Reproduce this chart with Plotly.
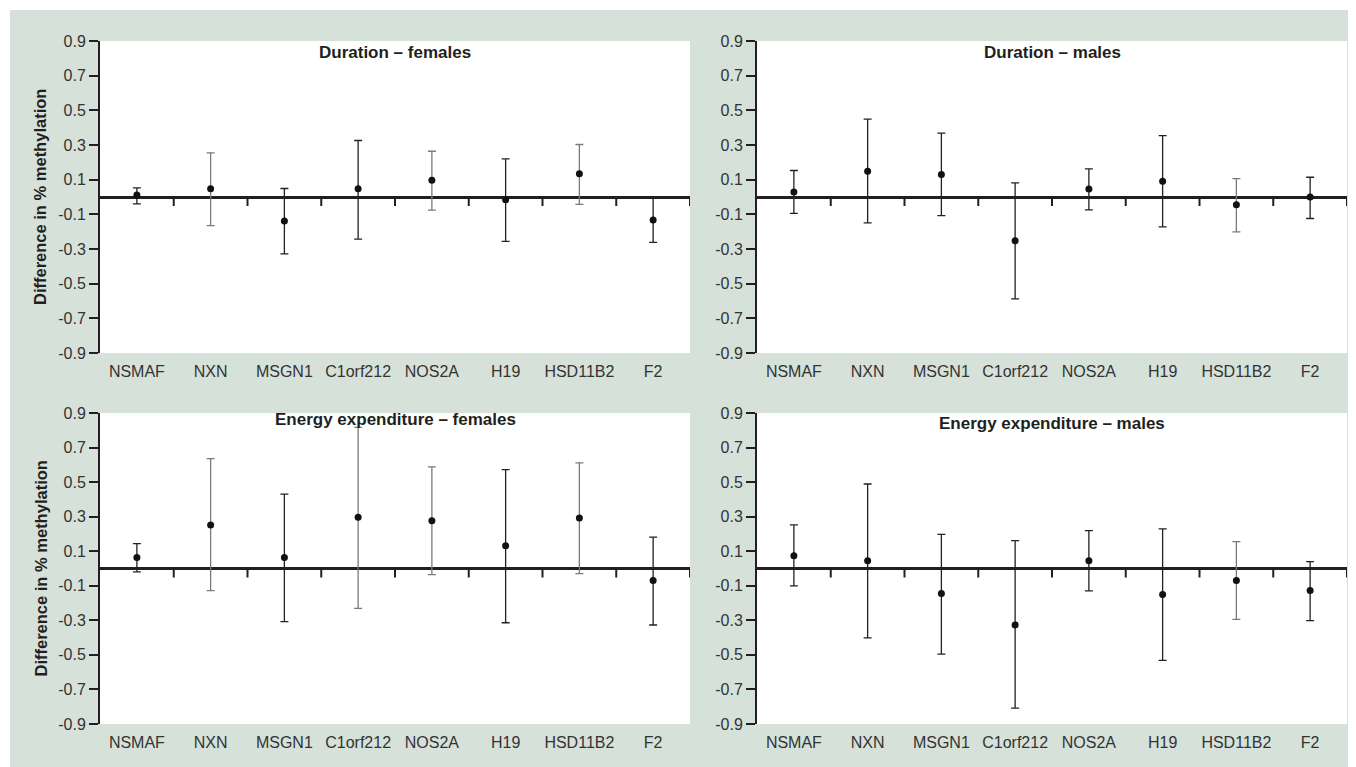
import plotly.graph_objects as go

# ---------------- data ----------------
genes = ["NSMAF", "NXN", "MSGN1", "C1orf212", "NOS2A", "H19", "HSD11B2", "F2"]

titles = ["Duration – females", "Duration – males",
          "Energy expenditure – females", "Energy expenditure – males"]

dur_f_mean  = [0.011, 0.047, -0.138, 0.047, 0.096, -0.016, 0.134, -0.132]
dur_f_upper = [0.053, 0.254, 0.049, 0.326, 0.264, 0.220, 0.303, 0.000]
dur_f_lower = [-0.040, -0.165, -0.328, -0.243, -0.076, -0.256, -0.042, -0.262]

dur_m_mean  = [0.029, 0.149, 0.130, -0.253, 0.046, 0.091, -0.044, 0.000]
dur_m_upper = [0.153, 0.449, 0.368, 0.081, 0.162, 0.354, 0.106, 0.114]
dur_m_lower = [-0.095, -0.149, -0.108, -0.588, -0.074, -0.172, -0.201, -0.124]

ee_f_mean  = [0.063, 0.252, 0.063, 0.296, 0.277, 0.132, 0.292, -0.069]
ee_f_upper = [0.144, 0.636, 0.431, 0.817, 0.588, 0.572, 0.611, 0.182]
ee_f_lower = [-0.020, -0.128, -0.308, -0.231, -0.036, -0.314, -0.030, -0.327]

ee_m_mean  = [0.074, 0.045, -0.144, -0.327, 0.045, -0.150, -0.070, -0.128]
ee_m_upper = [0.252, 0.489, 0.198, 0.161, 0.219, 0.229, 0.155, 0.040]
ee_m_lower = [-0.101, -0.402, -0.495, -0.808, -0.130, -0.532, -0.294, -0.302]

# genes whose CI whiskers are printed in grey in the original
grey_genes = [["NXN", "NOS2A", "HSD11B2"],
              ["HSD11B2"],
              ["NXN", "C1orf212", "NOS2A", "HSD11B2"],
              ["HSD11B2"]]

y_ticks = [0.9, 0.7, 0.5, 0.3, 0.1, -0.1, -0.3, -0.5, -0.7, -0.9]
y_ticktext = ["0.9", "0.7", "0.5", "0.3", "0.1", "-0.1", "-0.3", "-0.5", "-0.7", "-0.9"]

panels = [(dur_f_mean, dur_f_upper, dur_f_lower),
          (dur_m_mean, dur_m_upper, dur_m_lower),
          (ee_f_mean, ee_f_upper, ee_f_lower),
          (ee_m_mean, ee_m_upper, ee_m_lower)]

# ---------------- layout geometry ----------------
W, H = 1356, 767
OFF = 8  # page body margin that offsets the figure on screen
BG = "#d6e1da"
INK = "#231f20"
FONT = "Liberation Sans, Arial, Helvetica, sans-serif"

def fx(px):
    return (px - OFF) / W

def fy(py):
    return 1 - (py - OFF) / H

x_domains = [[fx(100), fx(690)], [fx(757), fx(1347)]]
y_domains = [[fy(353), fy(41)], [fy(724), fy(413)]]
title_shift = [-11, -11, -6, -10]

fig = go.Figure()
shapes = []
annotations = []

for k, (mean, upper, lower) in enumerate(panels):
    row, col = divmod(k, 2)
    n = k + 1
    xa = "x" if n == 1 else f"x{n}"
    ya = "y" if n == 1 else f"y{n}"
    for grey in (False, True):
        idx = [i for i, g in enumerate(genes) if (g in grey_genes[k]) == grey]
        if not idx:
            continue
        fig.add_trace(go.Scatter(
            x=[genes[i] for i in idx],
            y=[mean[i] for i in idx],
            mode="markers",
            marker=dict(color="#111111", size=7),
            error_y=dict(type="data", symmetric=False,
                         array=[upper[i] - mean[i] for i in idx],
                         arrayminus=[mean[i] - lower[i] for i in idx],
                         color="#7a7a7a" if grey else "#222222",
                         thickness=1.3, width=4),
            xaxis=xa, yaxis=ya, showlegend=False, hoverinfo="skip"))

    fig.layout[f"xaxis{'' if n == 1 else n}"] = dict(
        domain=x_domains[col], anchor=ya, type="category",
        categoryorder="array", categoryarray=genes,
        range=[-0.5, len(genes) - 0.5], automargin=False,
        showline=False, showgrid=False, zeroline=False,
        ticks="outside", ticklen=4, tickcolor="rgba(0,0,0,0)",
        tickfont=dict(family=FONT, size=16, color="#333333"))
    fig.layout[f"yaxis{'' if n == 1 else n}"] = dict(
        domain=y_domains[row], anchor=xa, range=[-0.9, 0.9],
        tickvals=y_ticks, ticktext=y_ticktext, automargin=False,
        showline=True, linewidth=2, linecolor=INK,
        ticks="outside", ticklen=9, tickwidth=2, tickcolor=INK,
        showgrid=False, zeroline=True, zerolinewidth=2.5, zerolinecolor=INK,
        tickfont=dict(family=FONT, size=16, color="#333333"))

    # tick marks hanging under the zero line between categories
    for j in range(len(genes)):
        shapes.append(dict(type="line", xref=xa, yref=ya,
                           x0=j + 0.5, x1=j + 0.5,
                           ysizemode="pixel", yanchor=0, y0=0, y1=-9,
                           line=dict(color=INK, width=2)))

    annotations.append(dict(
        text=f"<b>{titles[k]}</b>", xref=f"{xa} domain", yref=f"{ya} domain",
        x=0.5, y=1, xanchor="center", yanchor="middle", yshift=title_shift[k],
        showarrow=False, font=dict(family=FONT, size=17, color=INK)))

    if col == 0:
        annotations.append(dict(
            text="<b>Difference in % methylation</b>", xref="paper", yref="paper",
            x=fx(40), y=sum(y_domains[row]) / 2, xanchor="center", yanchor="middle",
            textangle=-90, showarrow=False,
            font=dict(family=FONT, size=16.5, color=INK)))

# white strips above and left of the tinted panel
shapes.append(dict(type="rect", xref="paper", yref="paper", x0=0, x1=1,
                   y0=fy(10), y1=1, fillcolor="white", line=dict(width=0),
                   layer="below"))
shapes.append(dict(type="rect", xref="paper", yref="paper", x0=0, x1=fx(10),
                   y0=0, y1=1, fillcolor="white", line=dict(width=0),
                   layer="below"))

fig.update_layout(
    width=W, height=H, autosize=False,
    margin=dict(l=0, r=0, t=0, b=0, pad=0, autoexpand=False),
    paper_bgcolor=BG, plot_bgcolor="white",
    shapes=shapes, annotations=annotations,
    font=dict(family=FONT, color=INK),
    showlegend=False)

fig.write_html("out.html")
